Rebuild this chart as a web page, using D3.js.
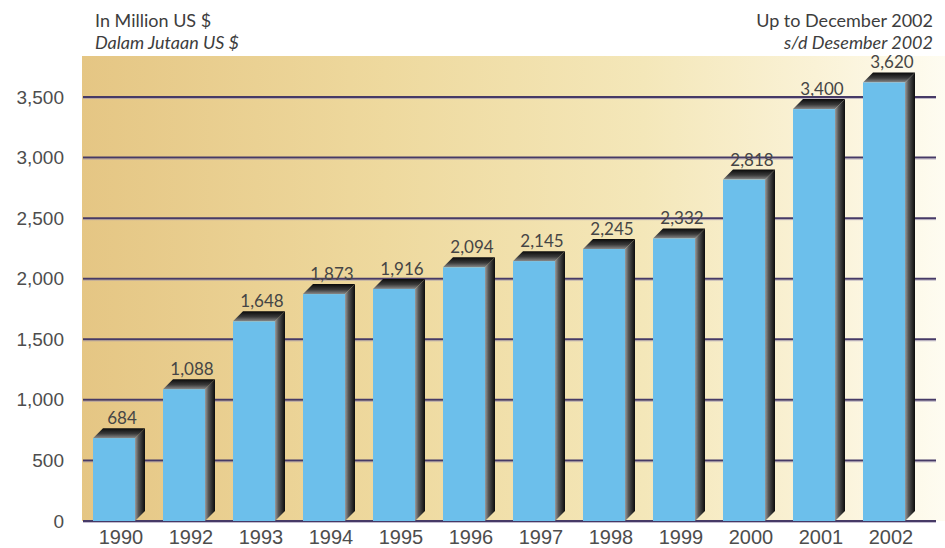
<!DOCTYPE html>
<html>
<head>
<meta charset="utf-8">
<script src="https://cdn.jsdelivr.net/npm/d3@7"></script>
<style>
  html, body { margin: 0; padding: 0; background: #ffffff; }
  svg { display: block; font-family: Lato, "Noto Sans", sans-serif; }
</style>
</head>
<body>
<svg id="chart" width="945" height="548"></svg>
<script>
const years = ["1990","1992","1993","1994","1995","1996","1997","1998","1999","2000","2001","2002"];
const values = [684, 1088, 1648, 1873, 1916, 2094, 2145, 2245, 2332, 2818, 3400, 3620];
const valueLabels = ["684","1,088","1,648","1,873","1,916","2,094","2,145","2,245","2,332","2,818","3,400","3,620"];
const yTicks = [0, 500, 1000, 1500, 2000, 2500, 3000, 3500];
const headerLeft = ["In Million US $", "Dalam Jutaan US $"];
const headerRight = ["Up to December 2002", "s/d Desember 2002"];

(function () {
const svg = d3.select("#chart");
const panel = {left: 82, top: 56, right: 945, bottom: 521};

const x = d3.scaleBand().domain(years).range([79, 919]).paddingInner(0.4).paddingOuter(0.2);
const y = d3.scaleLinear().domain([0, 3500]).range([521, 97]);
const bw = x.bandwidth();
const depth = 10;

const defs = svg.append("defs");
const bg = defs.append("linearGradient").attr("id", "bg").attr("x1", "0").attr("x2", "1").attr("y1", "0").attr("y2", "0");
[["0%", "#e5c684"], ["35%", "#eed99e"], ["65%", "#f4e7b9"], ["85%", "#faf2d6"], ["100%", "#fefcf1"]]
  .forEach(([o, c]) => bg.append("stop").attr("offset", o).attr("stop-color", c));
const sideG = defs.append("linearGradient").attr("id", "side").attr("x1", "0").attr("x2", "1").attr("y1", "0").attr("y2", "0");
[["0%", "#9a9a9a"], ["35%", "#555"], ["100%", "#0c0c0c"]]
  .forEach(([o, c]) => sideG.append("stop").attr("offset", o).attr("stop-color", c));
const topG = defs.append("linearGradient").attr("id", "topf").attr("x1", "0").attr("x2", "0").attr("y1", "1").attr("y2", "0");
[["0%", "#8a8a8a"], ["45%", "#3a3a3a"], ["100%", "#0a0a0a"]]
  .forEach(([o, c]) => topG.append("stop").attr("offset", o).attr("stop-color", c));

// background panel
svg.append("rect").attr("x", panel.left).attr("y", panel.top)
  .attr("width", panel.right - panel.left).attr("height", panel.bottom - panel.top)
  .attr("fill", "url(#bg)");

// y axis labels
const yAxis = d3.axisLeft(y).tickValues(yTicks).tickFormat(d3.format(",")).tickSize(0).tickPadding(0);
const yg = svg.append("g").attr("transform", "translate(64,0)").call(yAxis);
yg.select(".domain").remove();
yg.selectAll("text").attr("font-size", 19).attr("fill", "#4d4d4d");

// gridlines
svg.append("g").selectAll("line").data(yTicks).join("line")
  .attr("x1", panel.left + 1).attr("x2", 936)
  .attr("y1", d => y(d)).attr("y2", d => y(d))
  .attr("stroke", "#463a66").attr("stroke-width", 2);
svg.append("g").selectAll("line").data(yTicks).join("line")
  .attr("x1", panel.left + 1).attr("x2", 936)
  .attr("y1", d => y(d) + 1.5).attr("y2", d => y(d) + 1.5)
  .attr("stroke", "#9a8fb0").attr("stroke-width", 1).attr("opacity", 0.6);

// bars
const data = years.map((yr, i) => ({yr, v: values[i], label: valueLabels[i]}));
const bars = svg.append("g").selectAll("g").data(data).join("g");

bars.append("path").attr("fill", "url(#side)")
  .attr("d", d => {
    const x0 = x(d.yr) + bw, yt = y(d.v), yb = y(0);
    return `M${x0},${yt}L${x0 + depth},${yt - depth}L${x0 + depth},${yb - depth}L${x0},${yb}Z`;
  });
bars.append("path").attr("fill", "url(#topf)")
  .attr("d", d => {
    const x0 = x(d.yr), yt = y(d.v);
    return `M${x0},${yt}L${x0 + depth},${yt - depth}L${x0 + bw + depth},${yt - depth}L${x0 + bw},${yt}Z`;
  });
bars.append("rect").attr("fill", "#6cbfeb")
  .attr("x", d => x(d.yr)).attr("y", d => y(d.v))
  .attr("width", bw).attr("height", d => y(0) - y(d.v));

bars.append("text")
  .attr("x", d => x(d.yr) + bw / 2 + 8)
  .attr("y", d => y(d.v) - depth - 4)
  .attr("text-anchor", "middle").attr("font-size", 17).attr("fill", "#454545")
  .text(d => d.label);

// x axis labels
const xAxis = d3.axisBottom(x).tickSize(0).tickPadding(0);
const xg = svg.append("g").attr("transform", "translate(7,528)").call(xAxis);
xg.select(".domain").remove();
xg.selectAll("text").attr("font-size", 20).attr("fill", "#4d4d4d").attr("dy", "0.8em");

// headers
svg.append("g").selectAll("text").data(headerLeft).join("text")
  .attr("x", 95).attr("y", (d, i) => 27 + i * 22)
  .attr("font-size", 18).attr("fill", "#3d3d3d")
  .attr("font-style", (d, i) => i === 1 ? "italic" : "normal")
  .text(d => d);
svg.append("g").selectAll("text").data(headerRight).join("text")
  .attr("x", 933).attr("y", (d, i) => 27 + i * 22)
  .attr("text-anchor", "end")
  .attr("font-size", 18).attr("fill", "#3d3d3d")
  .attr("font-style", (d, i) => i === 1 ? "italic" : "normal")
  .text(d => d);
})();
</script>
</body>
</html>
